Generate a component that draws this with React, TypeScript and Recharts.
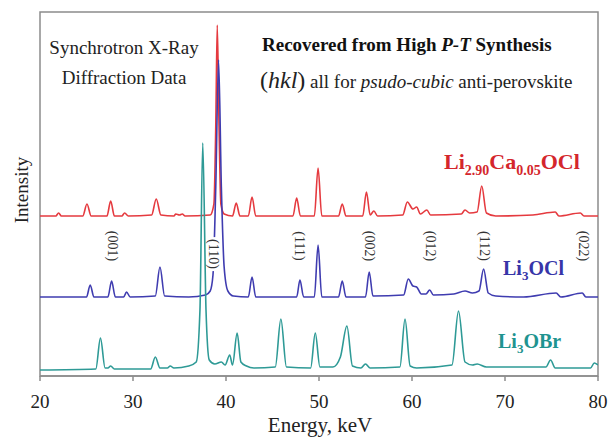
import { LineChart, Line, XAxis, YAxis, ReferenceArea } from 'recharts';

// energies (keV) and intensities (arb. units above each trace's own baseline)
const redE = [20, 21.7, 22.0, 22.3, 24.6, 25.05, 25.5, 27.2, 27.6, 28.0, 28.8, 29.1, 29.5, 32.0, 32.5, 33.0, 34.4, 34.6, 35.0, 35.3, 35.6, 38.3, 38.7, 38.9, 39.06, 39.25, 39.45, 39.8, 40.7, 41.1, 41.5, 42.4, 42.8, 43.2, 47.2, 47.6, 48.0, 49.5, 49.9, 50.3, 52.1, 52.5, 52.9, 54.7, 55.1, 55.5, 55.9, 56.3, 59.0, 59.5, 60.1, 60.5, 60.9, 61.6, 62.0, 65.3, 65.7, 66.2, 67.0, 67.5, 68.0, 69.0, 73.0, 75.4, 75.8, 78.1, 78.5, 80];
const redI = [0, 0, 3, 0, 0, 12, 0, 0, 15, 0, 0, 3, 0, 1, 17, 1, 0, 2, 1, 2, 0, 1, 12, 90, 191, 90, 12, 2, 0, 13, 0, 0, 19, 0, 0, 18, 0, 0, 48, 0, 0, 12, 0, 0, 24, 1, 5, 0, 1, 14, 7, 9, 2, 6, 1, 2, 6, 3, 4, 30, 3, 0, 1, 4, 0, 3, 0, 0];

const blueE = [20, 25.0, 25.4, 25.8, 27.3, 27.7, 28.1, 29.0, 29.3, 29.7, 32.4, 32.9, 33.4, 36.0, 37.8, 38.3, 38.6, 38.9, 39.2, 39.5, 39.8, 40.2, 40.8, 42.4, 42.8, 43.2, 47.6, 47.95, 48.35, 49.5, 49.9, 50.3, 52.1, 52.5, 52.9, 55.0, 55.4, 55.8, 59.1, 59.6, 60.1, 60.5, 61.0, 61.5, 61.9, 62.3, 64.5, 65.7, 66.5, 67.2, 67.7, 68.2, 69.0, 72.0, 75.5, 76.0, 78.3, 78.7, 80];
const blueI = [0, 0, 12, 0, 0, 16, 0, 0, 5, 0, 1, 30, 1, 0, 2, 6, 22, 110, 237, 110, 30, 6, 1, 0, 20, 0, 0, 17, 0, 0, 52, 0, 0, 16, 0, 0, 25, 1, 2, 18, 11, 10, 3, 3, 7, 2, 3, 6, 4, 6, 28, 4, 1, 0, 4, 0, 4, 0, 0];

const tealE = [20, 26.0, 26.5, 27.0, 27.3, 27.6, 28.0, 31.9, 32.4, 32.9, 33.7, 34.0, 34.4, 36.0, 36.8, 37.2, 37.5, 37.85, 38.2, 38.8, 39.5, 39.9, 40.4, 40.7, 41.2, 41.6, 42.2, 43.0, 45.3, 45.9, 46.5, 49.1, 49.6, 50.1, 51.5, 52.3, 53.0, 53.6, 54.5, 55.0, 55.5, 58.7, 59.25, 59.8, 60.5, 64.3, 65.0, 65.7, 66.5, 67.0, 68.0, 74.4, 74.9, 75.4, 79.2, 79.6, 80];
const tealI = [0, 1, 32, 2, 2, 4, 1, 1, 13, 2, 2, 4, 2, 4, 8, 60, 227, 60, 10, 6, 8, 5, 15, 5, 37, 8, 4, 2, 3, 51, 3, 2, 37, 3, 3, 13, 44, 4, 2, 6, 2, 3, 51, 4, 2, 5, 59, 8, 5, 6, 3, 3, 10, 2, 2, 7, 5];

// vertical stacking of the three traces
const redOffset = 160;
const blueOffset = 79;
const tealOffset = 6;

const yMax = 364;
const xTicks = [20, 30, 40, 50, 60, 70, 80];

const hklLabels = ['(001)', '(110)', '(111)', '(002)', '(012)', '(112)', '(022)'];

// one table keyed by energy, gaps filled by connectNulls
type Row = { x: number; red?: number; blue?: number; teal?: number };
const rows = new Map<number, Row>();
const put = (e: number[], v: number[], off: number, key: 'red' | 'blue' | 'teal') =>
  e.forEach((x, i) => {
    const r = rows.get(x) ?? { x };
    r[key] = v[i] + off;
    rows.set(x, r);
  });
put(redE, redI, redOffset, 'red');
put(blueE, blueI, blueOffset, 'blue');
put(tealE, tealI, tealOffset, 'teal');
const chartData = [...rows.values()].sort((a, b) => a.x - b.x);

const FRAME = '#8c8c8c';
const SERIF = '"Liberation Serif", "Times New Roman", serif';

// label centres in px
const hklPos = [
  [112, 246],
  [213, 254],
  [299, 246],
  [369, 246],
  [430, 246],
  [484, 246],
  [583, 246],
];

export default function App() {
  return (
    <div
      style={{
        position: 'absolute',
        left: 0,
        top: 0,
        width: 608,
        height: 437,
        background: '#fff',
        fontFamily: SERIF,
        color: '#222',
      }}
    >
      <LineChart
        width={608}
        height={437}
        data={chartData}
        margin={{ top: 12, right: 10, left: 40, bottom: 21 }}
      >
        <XAxis
          dataKey="x"
          type="number"
          domain={[20, 80]}
          ticks={xTicks}
          allowDataOverflow
          height={40}
          stroke={FRAME}
          strokeWidth={1.5}
          tickSize={5}
          tickMargin={14}
          tick={{ fill: '#222', fontSize: 19, fontFamily: SERIF }}
        />
        <YAxis type="number" domain={[0, yMax]} allowDataOverflow hide />
        <ReferenceArea
          x1={20}
          x2={80}
          y1={0}
          y2={yMax}
          fill="none"
          stroke={FRAME}
          strokeWidth={1.5}
          fillOpacity={0}
        />
        <Line
          dataKey="red"
          type="monotone"
          connectNulls
          stroke="#e53a3f"
          strokeWidth={1.6}
          strokeLinejoin="round"
          dot={false}
          isAnimationActive={false}
        />
        <Line
          dataKey="blue"
          type="monotone"
          connectNulls
          stroke="#3f3cb0"
          strokeWidth={1.6}
          strokeLinejoin="round"
          dot={false}
          isAnimationActive={false}
        />
        <Line
          dataKey="teal"
          type="monotone"
          connectNulls
          stroke="#2e9a96"
          strokeWidth={1.6}
          strokeLinejoin="round"
          dot={false}
          isAnimationActive={false}
        />
      </LineChart>

      {/* annotations */}
      <div style={{ position: 'absolute', left: 124, top: 48, transform: 'translate(-50%,-50%)', fontSize: 19, whiteSpace: 'nowrap' }}>
        Synchrotron X-Ray
      </div>
      <div style={{ position: 'absolute', left: 124, top: 78, transform: 'translate(-50%,-50%)', fontSize: 19, whiteSpace: 'nowrap' }}>
        Diffraction Data
      </div>
      <div style={{ position: 'absolute', left: 262, top: 45, transform: 'translateY(-50%)', fontSize: 19, fontWeight: 'bold', whiteSpace: 'nowrap', color: '#111' }}>
        Recovered from High <i>P-T</i> Synthesis
      </div>
      <div style={{ position: 'absolute', left: 260, top: 80, transform: 'translateY(-50%)', fontSize: 19, whiteSpace: 'nowrap' }}>
        <span style={{ fontSize: 24 }}>
          (<i>hkl</i>)
        </span>{' '}
        all for <i>psudo-cubic</i> anti-perovskite
      </div>
      <div style={{ position: 'absolute', left: 444, top: 164, transform: 'translateY(-50%)', fontSize: 22, fontWeight: 'bold', whiteSpace: 'nowrap', color: '#d4262c' }}>
        Li<sub style={{ fontSize: 14 }}>2.90</sub>Ca<sub style={{ fontSize: 14 }}>0.05</sub>OCl
      </div>
      <div style={{ position: 'absolute', left: 503, top: 270, transform: 'translateY(-50%)', fontSize: 20, fontWeight: 'bold', whiteSpace: 'nowrap', color: '#3735a8' }}>
        Li<sub style={{ fontSize: 13 }}>3</sub>OCl
      </div>
      <div style={{ position: 'absolute', left: 498, top: 343, transform: 'translateY(-50%)', fontSize: 20, fontWeight: 'bold', whiteSpace: 'nowrap', color: '#1f9490' }}>
        Li<sub style={{ fontSize: 13 }}>3</sub>OBr
      </div>
      {hklLabels.map((t, i) => (
        <div
          key={t}
          style={{
            position: 'absolute',
            left: hklPos[i][0],
            top: hklPos[i][1],
            transform: 'translate(-50%,-50%) rotate(90deg)',
            fontSize: 14,
            whiteSpace: 'nowrap',
            color: '#333',
            background: i === 1 ? '#fff' : 'transparent',
            padding: i === 1 ? '0 2px' : 0,
            lineHeight: '14px',
          }}
        >
          {t}
        </div>
      ))}
      <div style={{ position: 'absolute', left: 22, top: 190, transform: 'translate(-50%,-50%) rotate(-90deg)', fontSize: 19, whiteSpace: 'nowrap' }}>
        Intensity
      </div>
      <div style={{ position: 'absolute', left: 320, top: 425, transform: 'translate(-50%,-50%)', fontSize: 21, whiteSpace: 'nowrap', lineHeight: '22px' }}>
        Energy, keV
      </div>
    </div>
  );
}
